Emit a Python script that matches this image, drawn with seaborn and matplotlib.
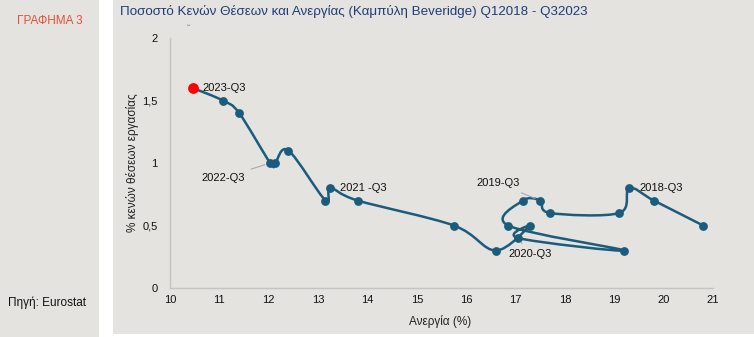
import numpy as np
import pandas as pd
import matplotlib
matplotlib.use("Agg")
import matplotlib.pyplot as plt
import seaborn as sns
from matplotlib.path import Path
from matplotlib.patches import PathPatch, Rectangle

# ---- data (chronological order) ----
unemployment = [20.8, 19.8, 19.3, 19.1, 17.7, 17.5, 17.15, 16.85, 19.2, 17.05, 17.3,
                16.6, 15.75, 13.8, 13.25, 13.15, 12.4, 12.13, 12.03, 11.4, 11.07, 10.46]
vacancies = [0.5, 0.7, 0.8, 0.6, 0.6, 0.7, 0.7, 0.5, 0.3, 0.4, 0.5,
             0.3, 0.5, 0.7, 0.8, 0.7, 1.1, 1.0, 1.0, 1.4, 1.5, 1.6]
point_labels = ["", "", "2018-Q3", "", "", "2019-Q3", "", "", "", "2020-Q3", "",
                "", "", "", "2021 -Q3", "", "", "", "2022-Q3", "", "", "2023-Q3"]
x_ticks = [10, 11, 12, 13, 14, 15, 16, 17, 18, 19, 20, 21]
y_ticks = [0, 0.5, 1, 1.5, 2]
y_tick_labels = ["0", "0,5", "1", "1,5", "2"]

df = pd.DataFrame({"u": unemployment, "v": vacancies, "label": point_labels})

LINE = "#1b5b7b"
BG = "#e4e3df"

sns.set_style("white")
plt.rcParams["font.family"] = ["Liberation Sans", "DejaVu Sans"]

fig = plt.figure(figsize=(7.54, 3.37), dpi=100)
fig.patch.set_facecolor("white")
fig.patches.append(Rectangle((0, 0), 99 / 754, 1, transform=fig.transFigure,
                             facecolor=BG, edgecolor="none", zorder=-10))
fig.patches.append(Rectangle((113 / 754, 3 / 337), 1, 1, transform=fig.transFigure,
                             facecolor=BG, edgecolor="none", zorder=-10))

ax = fig.add_axes([170 / 754, 1 - 288 / 337, 543 / 754, 250 / 337])
ax.set_facecolor("none")

# smoothed line through the data points (Catmull-Rom style, like Excel smoothing)
pts = df[["u", "v"]].to_numpy(dtype=float)
n = len(pts)
verts = [tuple(pts[0])]
codes = [Path.MOVETO]
for i in range(n - 1):
    p0 = pts[i - 1] if i > 0 else pts[i]
    p1 = pts[i]
    p2 = pts[i + 1]
    p3 = pts[i + 2] if i + 2 < n else pts[i + 1]
    c1 = p1 + (p2 - p0) / 6.0
    c2 = p2 - (p3 - p1) / 6.0
    verts += [tuple(c1), tuple(c2), tuple(p2)]
    codes += [Path.CURVE4] * 3
ax.add_patch(PathPatch(Path(verts, codes), facecolor="none", edgecolor=LINE,
                       lw=1.8, zorder=2, capstyle="round", joinstyle="round"))

sns.scatterplot(data=df.iloc[:-1], x="u", y="v", ax=ax, color=LINE, s=40,
                edgecolor=LINE, linewidth=0, zorder=3, legend=False)
sns.scatterplot(data=df.iloc[-1:], x="u", y="v", ax=ax, color="#ff0000", s=60,
                edgecolor="#ff0000", linewidth=0, zorder=4, legend=False)

# annotations
offsets = {
    "2018-Q3": ((10, 0), "left", False),
    "2019-Q3": ((-20, 17), "right", True),
    "2020-Q3": ((-10, -16), "left", True),
    "2021 -Q3": ((10, 0), "left", False),
    "2022-Q3": ((-25, -15), "right", True),
    "2023-Q3": ((10, 0), "left", False),
}
for _, r in df[df["label"] != ""].iterrows():
    off, ha, leader = offsets[r["label"]]
    ax.annotate(r["label"], xy=(r["u"], r["v"]), xytext=off, textcoords="offset pixels",
                ha=ha, va="center", fontsize=8, color="#111111", zorder=5,
                arrowprops=dict(arrowstyle="-", color="#a9a9a9", lw=0.8,
                                shrinkA=2, shrinkB=4) if leader else None)

ax.set_xlim(10, 21)
ax.set_ylim(0, 2)
ax.set_xticks(x_ticks)
ax.set_xticklabels([str(t) for t in x_ticks])
ax.set_yticks(y_ticks)
ax.set_yticklabels(y_tick_labels)
ax.tick_params(axis="both", length=0, labelsize=8, colors="#111111")
ax.tick_params(axis="y", pad=9)
ax.tick_params(axis="x", pad=5)
for s in ["top", "right"]:
    ax.spines[s].set_visible(False)
for s in ["left", "bottom"]:
    ax.spines[s].set_color("#c4c4c4")
    ax.spines[s].set_linewidth(1.0)

ax.set_xlabel("Ανεργία (%)", fontsize=8.5, color="#222222")
ax.set_ylabel("% κενών θέσεων εργασίας", fontsize=8.5, color="#222222")
ax.xaxis.set_label_coords(0.497, -0.11)
ax.yaxis.set_label_coords(-0.058, 0.5)

fig.text(120 / 754, 1 - 11 / 337,
         "Ποσοστό Κενών Θέσεων και Ανεργίας (Καμπύλη Beveridge) Q12018 - Q32023",
         fontsize=9.6, color="#1f3c78", ha="left", va="center")
fig.text(50 / 754, 1 - 21 / 337, "ΓΡΑΦΗΜΑ 3", fontsize=8.5, color="#e0503a",
         ha="center", va="center")
fig.text(8 / 754, 1 - 303 / 337, "Πηγή: Eurostat", fontsize=8.5, color="#111111",
         ha="left", va="center")
fig.text(188 / 754, 1 - 29 / 337, "˘", fontsize=8, color="#7f8fa8",
         ha="center", va="center")

fig.savefig("out.png", dpi=100, facecolor=fig.get_facecolor())
